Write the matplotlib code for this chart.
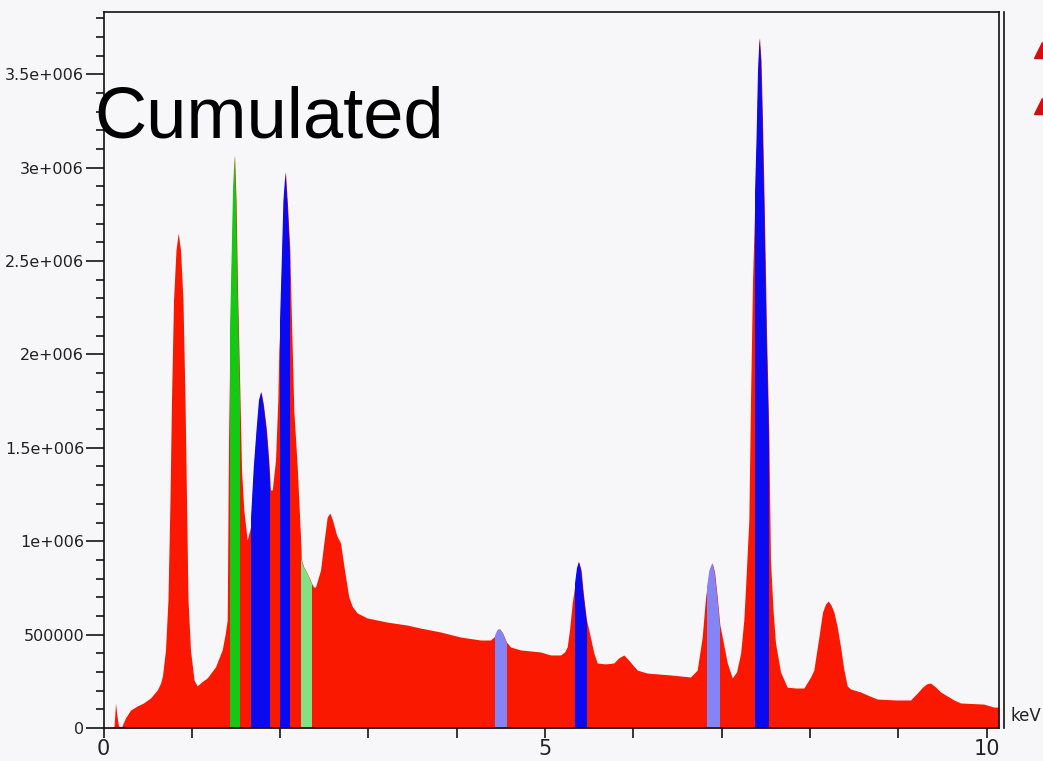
import matplotlib
matplotlib.use('Agg')
import matplotlib.pyplot as plt
from matplotlib.lines import Line2D

# spectrum envelope (keV, counts)
energy = [0.000, 0.102, 0.119, 0.136, 0.153, 0.170, 0.204, 0.249, 0.306, 0.382,
          0.453, 0.532, 0.608, 0.646, 0.668, 0.702, 0.730, 0.753, 0.770, 0.793,
          0.821, 0.846, 0.872, 0.900, 0.923, 0.940, 0.957, 0.985, 1.025, 1.061,
          1.110, 1.174, 1.268, 1.344, 1.376, 1.401, 1.416, 1.433, 1.450, 1.467,
          1.484, 1.501, 1.518, 1.544, 1.563, 1.589, 1.627, 1.665, 1.702, 1.733,
          1.761, 1.786, 1.812, 1.846, 1.872, 1.891, 1.911, 1.948, 1.974, 1.985,
          1.996, 2.016, 2.038, 2.061, 2.084, 2.110, 2.123, 2.155, 2.194, 2.231,
          2.242, 2.268, 2.299, 2.327, 2.356, 2.378, 2.401, 2.424, 2.458, 2.492,
          2.533, 2.563, 2.594, 2.639, 2.684, 2.729, 2.778, 2.820, 2.873, 2.986,
          3.213, 3.439, 3.590, 3.817, 4.043, 4.270, 4.383, 4.431, 4.462, 4.488,
          4.519, 4.564, 4.609, 4.723, 4.949, 5.062, 5.176, 5.221, 5.251, 5.277,
          5.308, 5.337, 5.362, 5.383, 5.408, 5.436, 5.470, 5.496, 5.553, 5.591,
          5.685, 5.779, 5.833, 5.893, 5.946, 6.044, 6.157, 6.421, 6.647, 6.723,
          6.780, 6.818, 6.837, 6.863, 6.894, 6.920, 6.948, 6.980, 7.007, 7.064,
          7.120, 7.169, 7.215, 7.251, 7.271, 7.308, 7.327, 7.350, 7.376, 7.395,
          7.412, 7.429, 7.446, 7.463, 7.486, 7.508, 7.534, 7.553, 7.582, 7.610,
          7.667, 7.742, 7.837, 7.931, 8.007, 8.044, 8.101, 8.143, 8.177, 8.207,
          8.239, 8.271, 8.309, 8.347, 8.381, 8.422, 8.460, 8.573, 8.649, 8.762,
          8.969, 9.139, 9.215, 9.275, 9.321, 9.366, 9.423, 9.479, 9.630, 9.706,
          9.969, 10.083, 10.139]
counts = [0, 5000, 5000, 134000, 64000, 11000, 5000, 54000, 96000, 118000,
          134000, 161000, 203000, 240000, 280000, 418000, 685000, 1220000, 1756000, 2291000,
          2559000, 2650000, 2559000, 2291000, 1756000, 1220000, 685000, 418000, 257000, 225000,
          246000, 268000, 327000, 418000, 498000, 578000, 1542000, 2130000, 2505000, 2880000,
          3067000, 2826000, 2345000, 1809000, 1381000, 1167000, 1006000, 1076000, 1397000, 1595000,
          1756000, 1799000, 1729000, 1595000, 1435000, 1274000, 1274000, 1435000, 1756000, 2023000,
          2130000, 2452000, 2826000, 2976000, 2800000, 2559000, 2291000, 1702000, 1397000, 1022000,
          899000, 862000, 835000, 808000, 776000, 755000, 755000, 792000, 846000, 980000,
          1129000, 1151000, 1113000, 1033000, 990000, 846000, 701000, 648000, 616000, 589000,
          567000, 551000, 535000, 514000, 487000, 471000, 471000, 492000, 525000, 530000,
          509000, 460000, 434000, 418000, 407000, 391000, 391000, 407000, 434000, 525000,
          669000, 765000, 856000, 889000, 846000, 712000, 578000, 525000, 401000, 348000,
          343000, 348000, 375000, 391000, 364000, 310000, 294000, 284000, 273000, 310000,
          487000, 701000, 765000, 846000, 883000, 835000, 712000, 551000, 487000, 348000,
          268000, 300000, 401000, 578000, 755000, 1113000, 1756000, 2398000, 2826000, 3148000,
          3522000, 3694000, 3576000, 3255000, 2719000, 2130000, 1595000, 899000, 632000, 455000,
          300000, 219000, 214000, 214000, 273000, 310000, 487000, 621000, 664000, 680000,
          658000, 621000, 541000, 434000, 321000, 225000, 209000, 193000, 177000, 155000,
          150000, 150000, 187000, 219000, 236000, 241000, 219000, 193000, 150000, 134000,
          128000, 112000, 112000]

# element windows (keV)
band_lo = [1.433, 1.665, 1.996, 2.242, 4.431, 5.337, 6.837, 7.376]
band_hi = [1.544, 1.891, 2.110, 2.356, 4.564, 5.470, 6.980, 7.534]
band_kind = ['g', 'b', 'b', 'lg', 'lb', 'b', 'lb', 'b']

y_ticks = [0, 500000, 1000000, 1500000, 2000000, 2500000, 3000000, 3500000]
y_labels = ['0', '500000', '1e+006', '1.5e+006', '2e+006', '2.5e+006', '3e+006', '3.5e+006']
x_ticks = [0, 5, 10]

kind_color = {'g': '#14c814', 'b': '#0a0af0', 'lg': '#84e084', 'lb': '#8484f4'}
bg = '#f7f7fa'

W, H = 1043, 761
fig = plt.figure(figsize=(W / 100, H / 100), dpi=100, facecolor=bg)
ax = fig.add_axes([103.5 / W, (H - 728) / H, (999 - 103.5) / W, (728 - 12) / H])
ax.set_facecolor(bg)

spec = ax.fill_between(energy, counts, 0, color='#fa1800', linewidth=0)
clip = spec.get_paths()[0]
for lo, hi, k in zip(band_lo, band_hi, band_kind):
    span = ax.axvspan(lo, hi, color=kind_color[k], linewidth=0)
    span.set_clip_path(clip, ax.transData)

ax.set_xlim(0, 10.141)
ax.set_ylim(0, 3.833e6)

ax.set_yticks(y_ticks)
ax.set_yticklabels(y_labels, family='DejaVu Sans', fontsize=11.5, color='#222222')
ax.set_yticks(range(0, 3800001, 100000), minor=True)
ax.set_xticks(x_ticks)
ax.set_xticklabels([str(t) for t in x_ticks], family='DejaVu Sans',
                   fontsize=15, color='#222222')
ax.set_xticks(range(0, 11), minor=True)
ax.tick_params(axis='y', which='major', length=13, width=1.1, pad=1)
ax.tick_params(axis='y', which='minor', length=6, width=1.1)
ax.tick_params(axis='x', which='both', length=7, width=1.1, pad=1)

for s in ax.spines.values():
    s.set_linewidth(1.2)
    s.set_color('#111111')

# outer frame line on the right
fig.add_artist(Line2D([1004 / W, 1004 / W], [(H - 728) / H, (H - 12) / H],
                      color='#111111', lw=1.2))

fig.text(94 / W, 1 - 138 / H, 'Cumulated', fontsize=52, family='Liberation Sans',
         va='baseline', ha='left', color='black')
fig.text(1011 / W, 1 - 716 / H, 'keV', fontsize=12, family='DejaVu Sans',
         va='center', ha='left', color='#222222')

# legend markers cut by the right edge
fig.add_artist(Line2D([1042 / W], [1 - 50 / H], marker='^', markersize=12,
                      color='#d01010', lw=0))
fig.add_artist(Line2D([1042 / W], [1 - 106 / H], marker='^', markersize=12,
                      color='#d01010', lw=0))

fig.savefig('out.png', dpi=100, facecolor=bg)
